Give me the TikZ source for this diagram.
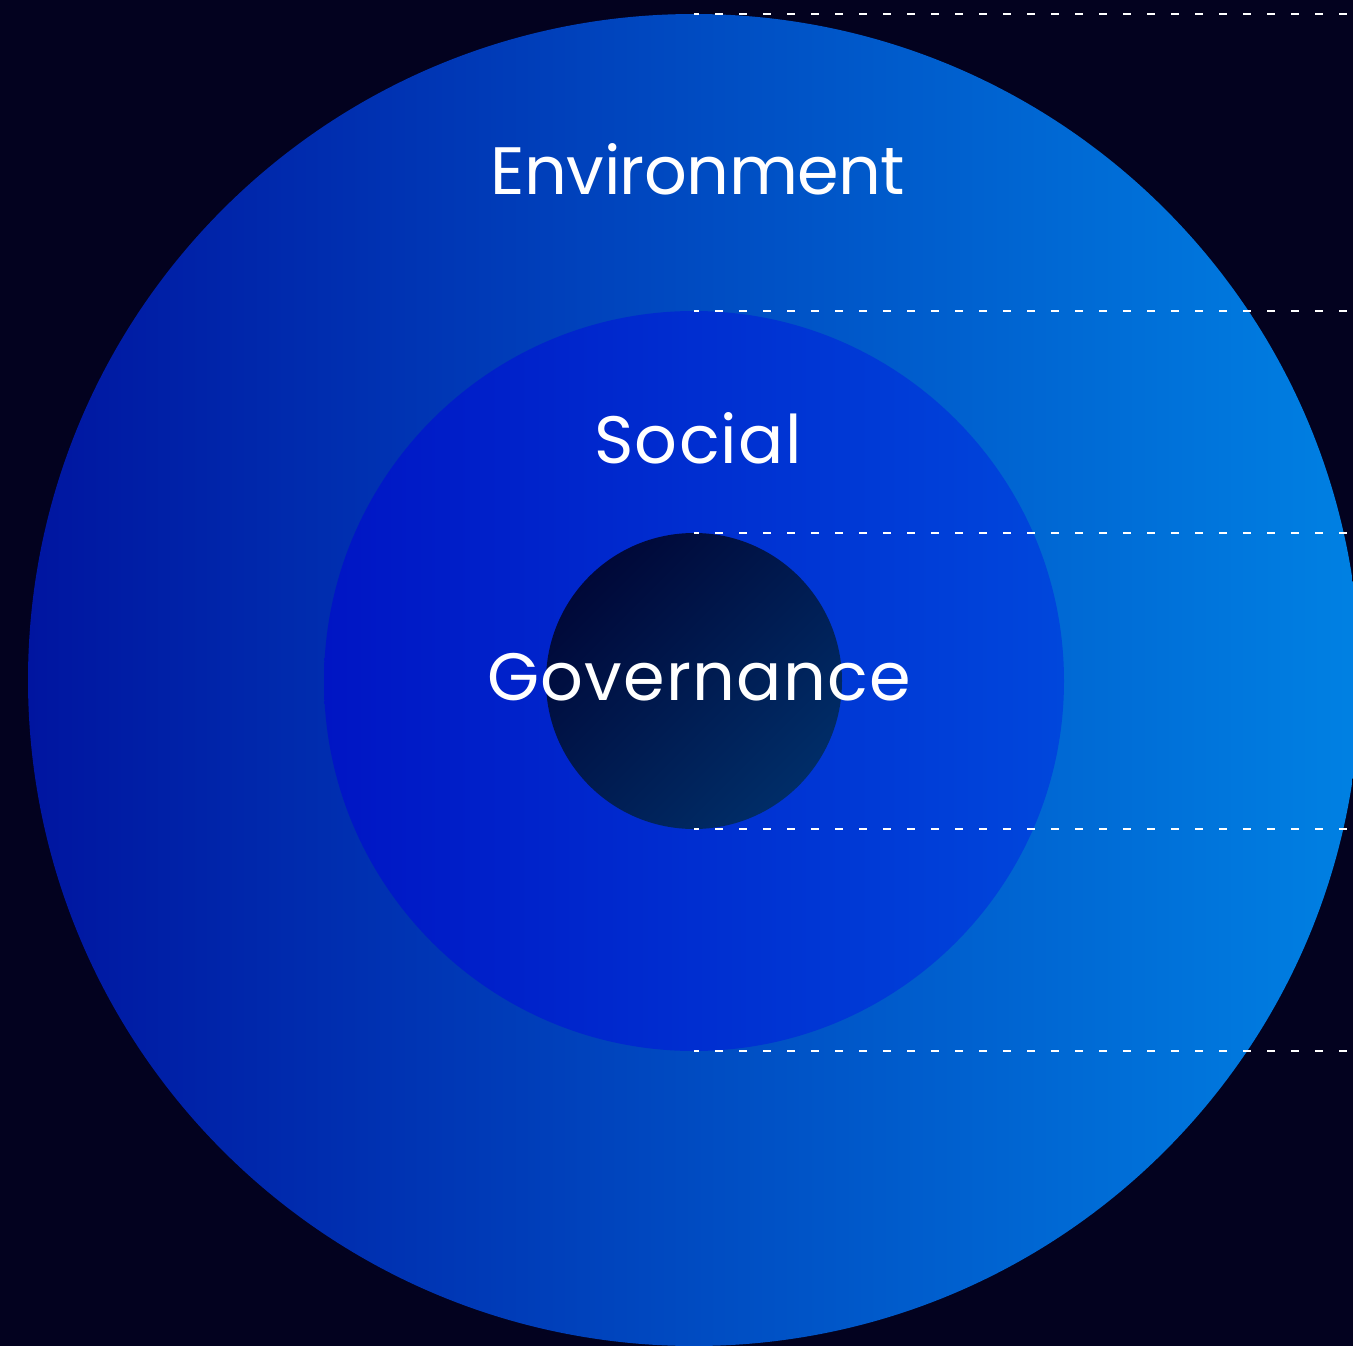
\documentclass[tikz,border=0pt]{standalone}
\usepackage{fontspec}
\setmainfont{Poppins}
\newfontfamily\labelfont[LetterSpace=1.8]{Poppins}
\newfontfamily\labelfonttight[LetterSpace=-0.8]{Poppins}
\definecolor{bgnavy}{HTML}{03021F}
\definecolor{outerL}{HTML}{0015A0}
\definecolor{outerR}{HTML}{0081E3}
\definecolor{midL}{HTML}{0015C4}
\definecolor{midR}{HTML}{0047DC}
\definecolor{innerA}{HTML}{000838}
\definecolor{innerB}{HTML}{002D68}
\begin{document}
\begin{tikzpicture}[x=1pt,y=-1pt,
  guide/.style={draw=white,line width=2pt,dash pattern=on 8pt off 16pt,dash phase=3pt},
  ringlabel/.style={text=white,anchor=base,inner sep=0pt}]
\useasboundingbox (0,0) rectangle (1353,1346);
\fill[bgnavy] (0,0) rectangle (1353,1346);
\begin{scope}
\clip (0,0) rectangle (1353,1346);
\shade[left color=outerL,right color=outerR] (694,680) circle (666);
\shade[left color=midL,right color=midR] (694,681) circle (370);
\shade[top color=innerA,bottom color=innerB,shading angle=45] (694,681) circle (148);
\end{scope}
\coordinate (t0) at (694,14);   \coordinate (e0) at (1353,14);
\coordinate (t1) at (694,311);  \coordinate (e1) at (1353,311);
\coordinate (t2) at (694,533);  \coordinate (e2) at (1353,533);
\coordinate (t3) at (694,829);  \coordinate (e3) at (1353,829);
\coordinate (t4) at (694,1051); \coordinate (e4) at (1353,1051);
\draw[guide] (t0) -- (e0);
\draw[guide] (t1) -- (e1);
\draw[guide] (t2) -- (e2);
\draw[guide] (t3) -- (e3);
\draw[guide] (t4) -- (e4);
\node[ringlabel,font=\labelfonttight\fontsize{67}{80}\selectfont] (env) at (698,194) {Environment};
\node[ringlabel,font=\labelfont\fontsize{67}{80}\selectfont] (soc) at (698,463) {Social};
\node[ringlabel,font=\labelfont\fontsize{67}{80}\selectfont] (gov) at (699,700) {Governance};
\end{tikzpicture}
\end{document}
